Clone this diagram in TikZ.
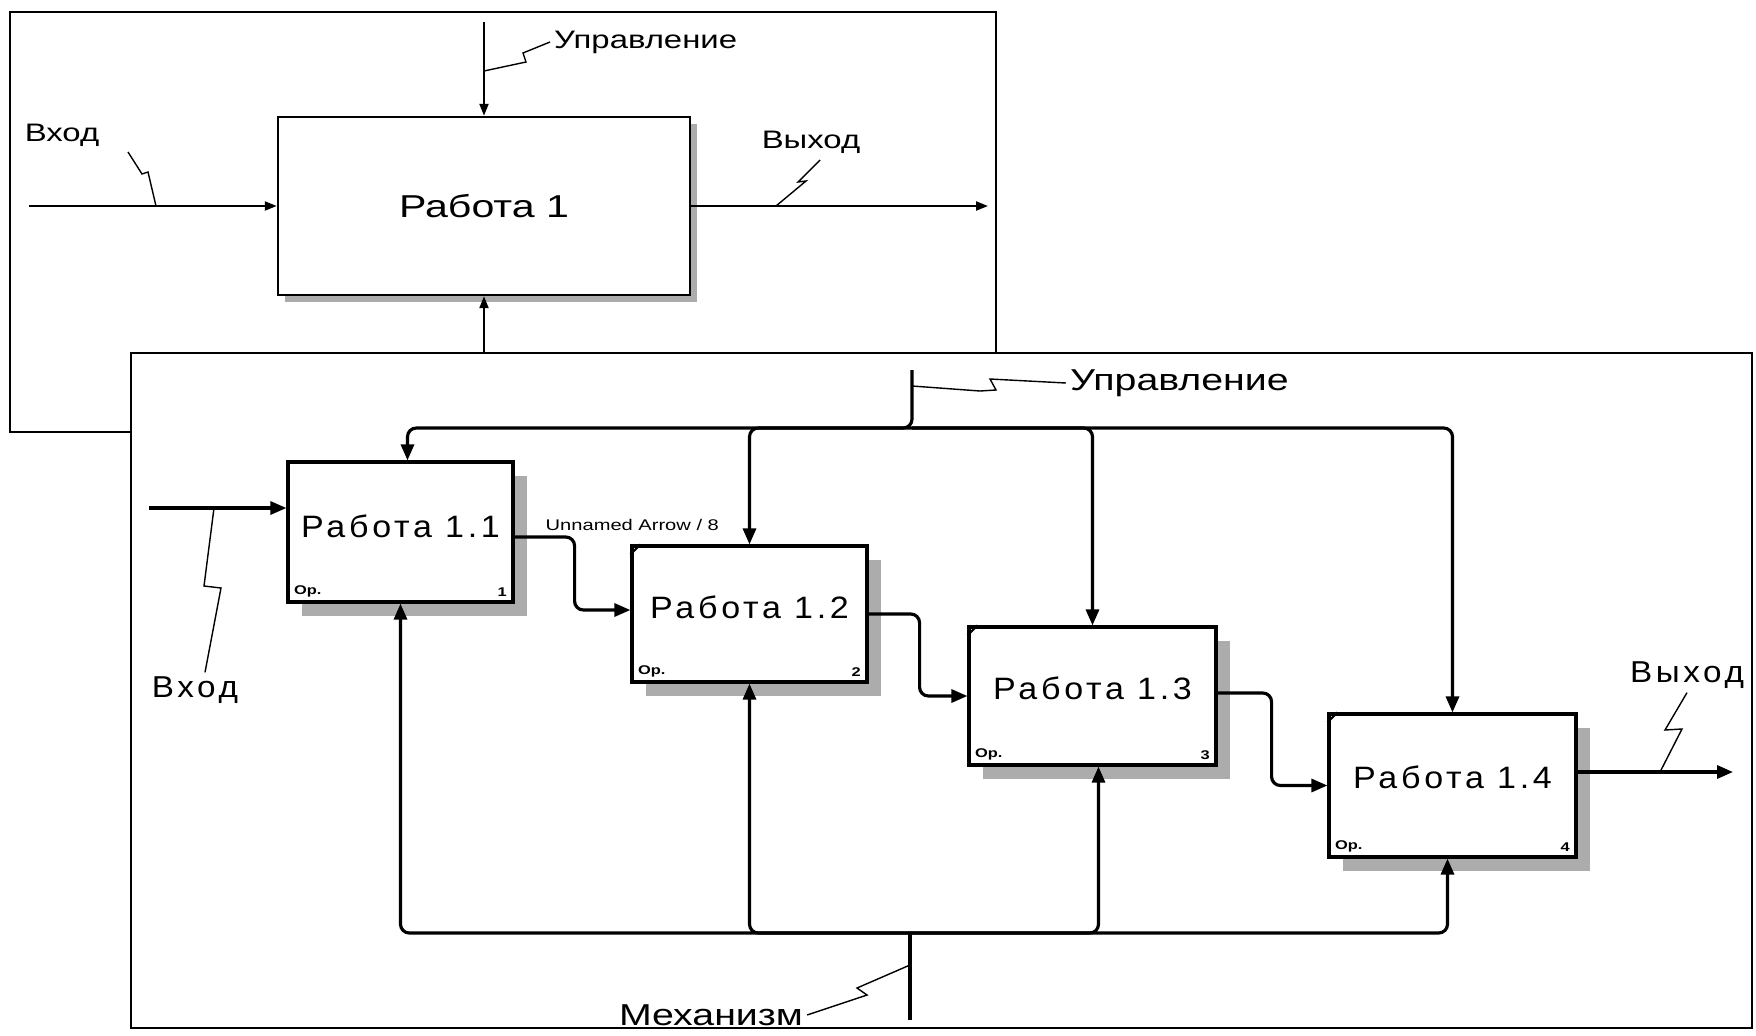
\documentclass[tikz,border=0pt]{standalone}
\usepackage{fontspec}
\newfontfamily\idf[FakeStretch=1.3]{Liberation Sans}
\newfontfamily\idfw[FakeStretch=1.1,LetterSpace=12]{Liberation Sans}
\usepackage{tikz}
\usetikzlibrary{arrows.meta,shadows,calc}

\begin{document}
\begin{tikzpicture}[x=0.1mm,y=-0.1mm,
    sheet/.style={line width=0.45pt},
    ln0/.style={line width=0.6pt},
    ar0/.style={ln0,-{Triangle[length=1.2mm,width=0.9mm]}},
    ln/.style={line width=0.9pt,rounded corners=2.5pt},
    ar/.style={ln,-{Triangle[length=1.6mm,width=1.3mm]}},
    squig/.style={line width=0.4pt},
    topbox/.style={draw,line width=0.7pt,fill=white,inner sep=0pt,
      font=\idf\fontsize{9}{11}\selectfont,
      drop shadow={shadow xshift=0.7mm,shadow yshift=-0.7mm,fill=gray!65,opacity=1}},
    actbox/.style={draw,line width=0.9pt,fill=white,inner sep=0pt,
      drop shadow={shadow xshift=1.4mm,shadow yshift=-1.4mm,fill=gray!65,opacity=1}},
    ttl/.style={inner sep=0pt,font=\idfw\fontsize{8.8}{10}\selectfont},
    opmark/.style={inner sep=0pt,font=\idf\bfseries\fontsize{3.6}{4}\selectfont},
    lbl0/.style={inner sep=1pt,font=\idf\fontsize{7.2}{9}\selectfont},
    lbl/.style={inner sep=1pt,font=\idf\fontsize{8.6}{10}\selectfont},
    lblw/.style={inner sep=1pt,font=\idfw\fontsize{8.6}{10}\selectfont},
    arrlbl/.style={inner sep=0pt,font=\idf\fontsize{4.4}{5}\selectfont}]
  \fill[white] (0,0) rectangle (1756,1035);
  \useasboundingbox (0,0) rectangle (1756,1035);

  % context diagram
  \draw[sheet] (10,12) rectangle (996,432);
  \node[topbox,minimum width=41.2mm,minimum height=17.8mm] (A0) at (484,206) {Работа 1};
  \coordinate (c0) at (484,22);
  \coordinate (i0) at (29,206);
  \coordinate (o0) at (988,206);
  \coordinate (m0) at (484,353);
  \draw[ar0] (c0) -- (A0.north);
  \draw[ar0] (i0) -- (A0.west);
  \draw[ar0] (A0.east) -- (o0);
  \draw[ar0] (m0) -- (A0.south);
  \node[lbl0,anchor=west] (lc0) at (550,42) {Управление};
  \node[lbl0] (li0) at (62,135) {Вход};
  \node[lbl0] (lo0) at (811,142) {Выход};
  \draw[squig] (lc0.west) -- (523,53) -- (526,62) -- (484,71);
  \draw[squig] (128,152) -- (142,174) -- (148,172) -- (156,206);
  \draw[squig] (820,160) -- (798,182) -- (806,181) -- (776,206);

  % decomposition
  \draw[sheet,fill=white] (131,353) rectangle (1752,1028);
  \node[actbox,minimum width=22.5mm,minimum height=14mm] (A1) at (400.5,532) {};
  \node[actbox,minimum width=23.5mm,minimum height=13.6mm] (A2) at (749.5,614) {};
  \node[actbox,minimum width=24.7mm,minimum height=13.8mm] (A3) at (1092.5,696) {};
  \node[actbox,minimum width=24.7mm,minimum height=14.3mm] (A4) at (1452.5,785.5) {};
  \node[ttl] (t1) at ([yshift=0.6mm]A1.center) {Работа 1.1};
  \node[ttl] (t2) at ([yshift=0.7mm]A2.center) {Работа 1.2};
  \node[ttl] (t3) at ([yshift=0.8mm]A3.center) {Работа 1.3};
  \node[ttl] (t4) at ([yshift=0.8mm]A4.center) {Работа 1.4};
  \node[opmark,anchor=south west] (p1) at ([shift={(0.7mm,0.6mm)}]A1.south west) {Op.};
  \node[opmark,anchor=south west] (p2) at ([shift={(0.7mm,0.6mm)}]A2.south west) {Op.};
  \node[opmark,anchor=south west] (p3) at ([shift={(0.7mm,0.6mm)}]A3.south west) {Op.};
  \node[opmark,anchor=south west] (p4) at ([shift={(0.7mm,0.6mm)}]A4.south west) {Op.};
  \node[opmark,anchor=south east] (n1) at ([shift={(-0.7mm,0.6mm)}]A1.south east) {1};
  \node[opmark,anchor=south east] (n2) at ([shift={(-0.7mm,0.6mm)}]A2.south east) {2};
  \node[opmark,anchor=south east] (n3) at ([shift={(-0.7mm,0.6mm)}]A3.south east) {3};
  \node[opmark,anchor=south east] (n4) at ([shift={(-0.7mm,0.6mm)}]A4.south east) {4};
  \draw[ln0] ([yshift=-1mm]A2.north west) -- ([xshift=1mm]A2.north west);
  \draw[ln0] ([yshift=-1mm]A3.north west) -- ([xshift=1mm]A3.north west);
  \draw[ln0] ([yshift=-1mm]A4.north west) -- ([xshift=1mm]A4.north west);

  % control
  \coordinate (c1) at (912,370);
  \coordinate (cb) at (912,428);
  \draw[ar] (c1) -- (cb) -| ([xshift=0.7mm]A1.north);
  \draw[ar] (cb) -| (A2.north);
  \draw[ar] (cb) -| (A3.north);
  \draw[ar] (cb) -| (A4.north);
  % input, links, output
  \coordinate (i1) at (149,508);
  \coordinate (o1) at (1733,772);
  \draw[ar] (i1) -- (i1 -| A1.west);
  \draw[ar] ([yshift=-0.5mm]A1.east) -- ++(60,0) |- ([yshift=0.4mm]A2.west);
  \draw[ar] (A2.east) -- ++(51,0) |- (A3.west);
  \draw[ar] ([yshift=0.3mm]A3.east) -- ++(54,0) |- (A4.west);
  \draw[ar] (o1 -| A4.east) -- (o1);
  % mechanism
  \coordinate (m1) at (910,1020);
  \coordinate (mb) at (910,933);
  \draw[ln] (m1) -- (mb);
  \draw[ar] (mb) -| (A1.south);
  \draw[ar] (mb) -| (A2.south);
  \draw[ar] (mb) -| ([xshift=0.6mm]A3.south);
  \draw[ar] (mb) -| ([xshift=-0.5mm]A4.south);

  \node[arrlbl,anchor=west] (ua) at (545,525) {Unnamed Arrow / 8};
  \node[lbl,anchor=west] (lc1) at (1066,383) {Управление};
  \node[lblw] (li1) at (195,690) {Вход};
  \node[lblw] (lo1) at (1687,675) {Выход};
  \node[lbl] (lm1) at (711,1015) {Механизм};
  \draw[squig] (lc1.west) -- (990,379) -- (996,390) -- (980,391) -- (912,386);
  \draw[squig] ([xshift=1mm]li1.north) -- (221,588) -- (204,586) -- (214,508);
  \draw[squig] (lo1.south) -- (1665,730) -- (1682,729) -- (1660,772);
  \draw[squig] (lm1.east) -- (867,995) -- (857,988) -- (910,965);
\end{tikzpicture}
\end{document}
